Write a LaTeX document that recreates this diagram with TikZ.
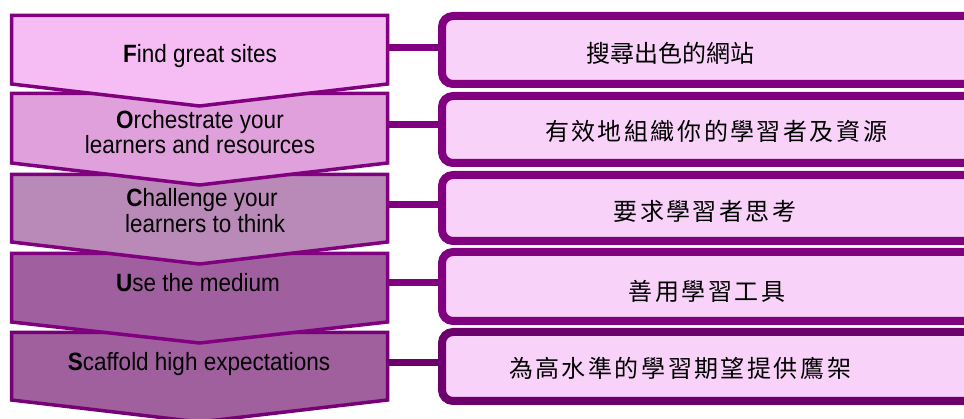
\documentclass[tikz,border=0pt]{standalone}
\usepackage{fontspec}
\setmainfont[FakeStretch=0.9]{Liberation Sans}
\newfontfamily\cjk{Noto Sans CJK TC}
\ExplSyntaxOn
\NewDocumentCommand\spaced{O{2.5pt}m}{
  \bool_set_true:N \l_tmpa_bool
  \tl_map_inline:nn {#2} { \bool_if:NF \l_tmpa_bool {\kern #1\relax} \bool_set_false:N \l_tmpa_bool ##1 }
}
\ExplSyntaxOff
\definecolor{chevline}{HTML}{800080}
\definecolor{chevlineb}{HTML}{760076}
\definecolor{boxline}{HTML}{800080}
\definecolor{boxlineb}{HTML}{6E006E}
\definecolor{boxfill}{HTML}{F8D2F8}
\definecolor{cA}{HTML}{F5BDF3}
\definecolor{cB}{HTML}{DFA0DC}
\definecolor{cC}{HTML}{B98AB8}
\definecolor{cD}{HTML}{A0609F}
\definecolor{cE}{HTML}{A0609E}
\tikzset{
  chev/.style={draw=chevline, line width=3.5pt, line join=miter},
  conn/.style={draw=chevline, line width=7pt},
  rbox/.style={draw=boxline, fill=boxfill, line width=8pt, rounded corners=11pt,
    minimum width=562pt, inner sep=0pt},
  etxt/.style={font=\fontsize{25}{22}\selectfont, align=center, inner sep=0pt},
  ctxt/.style={font=\cjk\fontsize{24}{24}\selectfont, inner sep=0pt},
}
\begin{document}
\begin{tikzpicture}[x=1pt, y=-1pt]
\useasboundingbox (0,0) rectangle (964,419);
\clip (0,0) rectangle (964,419);
% chevrons (bottom first)
\path[chev, draw=chevlineb, fill=cE] (11.5,332.5) -- (387.5,332.5) -- (387.5,400) -- (199.5,422) -- (11.5,400) -- cycle;
\path[chev, fill=cD] (11.5,253.5) -- (387.5,253.5) -- (387.5,322) -- (199.5,343) -- (11.5,322) -- cycle;
\path[chev, fill=cC] (11.5,174.5) -- (387.5,174.5) -- (387.5,242) -- (199.5,264) -- (11.5,242) -- cycle;
\path[chev, fill=cB] (11.5,93.5) -- (387.5,93.5) -- (387.5,163) -- (199.5,185) -- (11.5,163) -- cycle;
\path[chev, fill=cA] (11.5,15.5) -- (387.5,15.5) -- (387.5,84) -- (199.5,106) -- (11.5,84) -- cycle;
\coordinate (ch1) at (387.5,48);
\coordinate (ch2) at (387.5,125);
\coordinate (ch3) at (387.5,205);
\coordinate (ch4) at (387.5,283);
\coordinate (ch5) at (387.5,363);
% chevron texts
\node[etxt, anchor=base] (t1) at (200,63) {\textbf{F}ind great sites};
\node[etxt] (t2) at (200,132) {\textbf{O}rchestrate your\\learners and resources};
\node[etxt, font=\fontsize{25}{26}\selectfont] (t3) at (202,211) {\textbf{C}hallenge your\\ \ learners to think};
\node[etxt, anchor=base] (t4) at (198,292) {\textbf{U}se the medium};
\node[etxt, anchor=base] (t5) at (199,371) {\textbf{S}caffold high expectations};
% right boxes
\node[rbox, minimum height=68pt, anchor=west] (b1) at (438,50) {};
\node[rbox, minimum height=67pt, anchor=west] (b2) at (438,129.5) {};
\node[rbox, minimum height=66pt, anchor=west] (b3) at (438,208) {};
\node[rbox, minimum height=69pt, anchor=west] (b4) at (438,286.5) {};
\node[rbox, draw=boxlineb, minimum height=69pt, anchor=west] (b5) at (438,366.5) {};
% connectors
\draw[conn] (ch1) -- (ch1 -| b1.west);
\draw[conn] (ch2) -- (ch2 -| b2.west);
\draw[conn] (ch3) -- (ch3 -| b3.west);
\draw[conn] (ch4) -- (ch4 -| b4.west);
\draw[conn, draw=boxlineb] (ch5) -- (ch5 -| b5.west);
% box texts
\node[ctxt] (c1) at (670,53) {\spaced[0pt]{搜尋出色的網站}};
\node[ctxt] (c2) at (716,131) {\spaced{有效地組織你的學習者及資源}};
\node[ctxt] (c3) at (705,211) {\spaced{要求學習者思考}};
\node[ctxt] (c4) at (707,291) {\spaced{善用學習工具}};
\node[ctxt] (c5) at (680,368) {\spaced{為高水準的學習期望提供鷹架}};
\end{tikzpicture}
\end{document}
